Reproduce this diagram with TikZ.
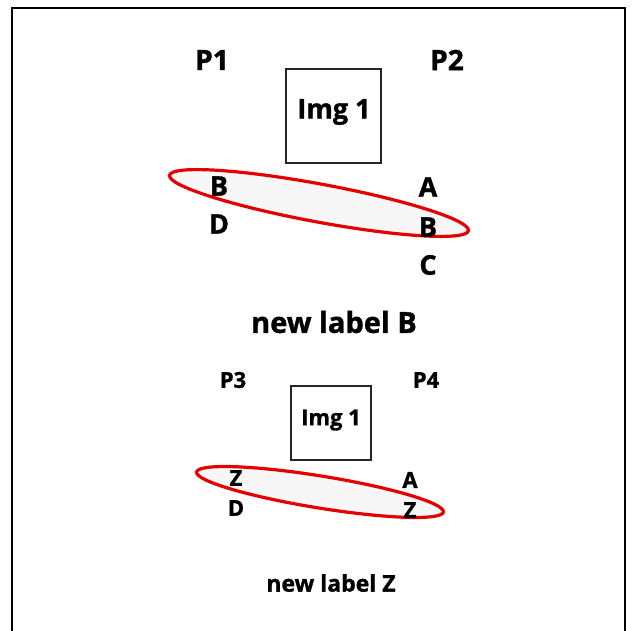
\documentclass[tikz,border=0pt]{standalone}
\usepackage{fontspec}
\setmainfont{Open Sans}[BoldFeatures={FakeBold=1.2}]
\begin{document}
\begin{tikzpicture}[x=1pt,y=-1pt,
  lbl/.style={font=\bfseries\fontsize{#1}{#1}\selectfont, inner sep=0pt, anchor=center},
  imgbox/.style={draw=black!85, line width=1.4pt, fill=white},
  ring/.style={draw=red!90!black, line width=3.2pt, fill=black!3}]
\useasboundingbox (0,0) rectangle (637,631);
% outer frame, open at the bottom
\draw[line width=2pt] (12,640) -- (12,8) -- (625,8) -- (625,640);

% upper group
\node[lbl=28] (p1) at (212,60) {P1};
\node[lbl=28] (p2) at (447,60) {P2};
\draw[imgbox] (286,69) rectangle (381,163);
\node[lbl=27] (img1) at (334,112) {Img 1};
\draw[ring, rotate around={-10.5:(319,203)}] (319,203) ellipse [x radius=152, y radius=19];
\node[lbl=27] (b1) at (219,186) {B};
\node[lbl=27] (d1) at (219,224) {D};
\node[lbl=27] (a1) at (428,187) {A};
\node[lbl=27] (b2) at (428,227) {B};
\node[lbl=27] (c1) at (428,265) {C};
\node[lbl=29] (nlb) at (334,322) {new label B};

% lower group
\node[lbl=22] (p3) at (233,380) {P3};
\node[lbl=22] (p4) at (426,380) {P4};
\draw[imgbox] (291,386) rectangle (371,460);
\node[lbl=22] (img2) at (331,420) {Img 1};
\draw[ring, rotate around={-9.2:(320,492)}] (320,492) ellipse [x radius=125, y radius=16];
\node[lbl=22] (z1) at (236,478) {Z};
\node[lbl=22] (d2) at (236,508) {D};
\node[lbl=22] (a2) at (410,480) {A};
\node[lbl=22] (z2) at (410,510) {Z};
\node[lbl=23] (nlz) at (331,583) {new label Z};
\end{tikzpicture}
\end{document}
